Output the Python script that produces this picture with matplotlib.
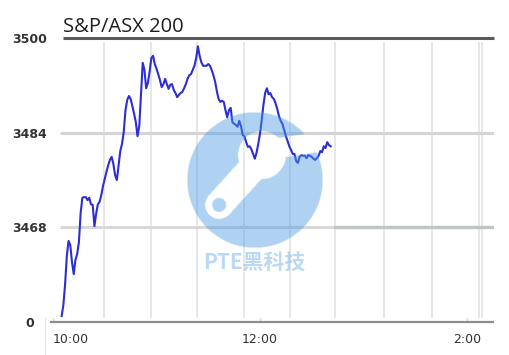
import numpy as np
import matplotlib
matplotlib.use('Agg')
import matplotlib.pyplot as plt

W, H = 509, 355

# S&P/ASX 200, one reading per minute starting 10:05
prices = [
    3453.0, 3454.9, 3458.4, 3463.2, 3465.7, 3465.0, 3462.1, 3460.1, 3462.5, 3463.5,
    3465.5, 3470.4, 3473.0, 3473.1, 3473.1, 3472.6, 3473.0, 3471.9, 3471.8, 3468.2,
    3470.3, 3471.9, 3472.3, 3473.5, 3475.0, 3476.2, 3477.4, 3478.5, 3479.4, 3479.9,
    3478.7, 3476.8, 3476.0, 3478.4, 3480.9, 3482.1, 3484.1, 3487.8, 3489.5, 3490.2,
    3489.7, 3488.5, 3487.2, 3485.8, 3483.4, 3485.1, 3490.4, 3495.8, 3494.6, 3491.5,
    3492.4, 3494.3, 3496.6, 3497.0, 3495.6, 3494.8, 3493.9, 3492.9, 3491.7, 3492.2,
    3493.1, 3492.2, 3491.4, 3492.1, 3492.2, 3491.2, 3490.7, 3490.0, 3490.4, 3490.7,
    3490.9, 3491.5, 3492.2, 3493.1, 3493.7, 3493.9, 3494.6, 3495.3, 3496.6, 3498.6,
    3497.0, 3495.9, 3495.3, 3495.3, 3495.3, 3495.6, 3495.3, 3494.6, 3493.7, 3492.6,
    3491.0, 3489.7, 3489.2, 3489.4, 3489.2, 3487.8, 3486.6, 3487.8, 3488.2, 3485.8,
    3485.5, 3485.3, 3485.0, 3486.0, 3485.1, 3483.6, 3483.4, 3482.4, 3481.6, 3481.7,
    3481.2, 3480.4, 3479.6, 3480.6, 3482.1, 3483.8, 3486.1, 3488.7, 3490.7, 3491.5,
    3490.5, 3490.7, 3490.0, 3489.7, 3489.0, 3488.0, 3486.8, 3486.0, 3485.5, 3484.5,
    3483.4, 3482.6, 3481.7, 3481.1, 3480.4, 3480.4, 3479.2, 3478.9, 3479.9, 3480.2,
    3480.1, 3480.1, 3479.7, 3480.2, 3480.1, 3479.9, 3479.6, 3479.4, 3479.7, 3480.1,
    3480.9, 3480.7, 3481.7, 3481.4, 3482.4, 3481.9, 3481.7,
]
start_min = 5
times = np.arange(start_min, start_min + len(prices))  # minutes after 10:00

y_ticks = [3452, 3468, 3484, 3500]
y_labels = ['0', '3468', '3484', '3500']
x_ticks = [0, 120, 240]
x_labels = ['10:00', '12:00', '2:00']
grid_x = [29.5, 57, 83.5, 110.5, 137.5, 163.5, 192, 220, 247, 249]


def fx(px):
    return px / W


def fy(py):
    return 1 - py / H


fig = plt.figure(figsize=(W / 100, H / 100), dpi=100)
fig.patch.set_facecolor('white')
ax = fig.add_axes([fx(52), fy(322), (494 - 52) / W, (322 - 38) / H])
ax.set_xlim(-0.6, 255.7)
ax.set_ylim(3452, 3500)
for s in ax.spines.values():
    s.set_visible(False)

# grid
ax.vlines(grid_x, 3452.7, 3499.3, color='#e0e0e0', lw=1.1, zorder=1)
ax.hlines(3484, 4, 255.7, color='#d4d4d4', lw=2.2, zorder=1)
ax.hlines(3468, 4, 162.3, color='#d8d8d8', lw=2.2, zorder=1)
ax.hlines(3468, 162.3, 255.7, color='#bcc6c2', lw=2.4, zorder=1)

# frame lines
ax.hlines(3500, 5.8, 255.7, color='#5b5b5b', lw=2.2, clip_on=False, zorder=2)
ax.hlines(3452, -1.7, 255.7, color='#8c8c8c', lw=1.6, clip_on=False, zorder=2)
fig.add_artist(plt.Line2D([fx(45), fx(45)], [fy(318), 0], color='#e6e6e6', lw=0.8))

ax.plot(times, prices, color='#2d2dd4', lw=1.5, zorder=5)

ax.set_xticks(x_ticks, x_labels)
ax.tick_params(axis='x', direction='in', length=3, width=1, color='#d0d0d0',
               pad=8, labelsize=9, labelcolor='#333333')
ax.get_xticklabels()[0].set_horizontalalignment('left')
ax.set_yticks(y_ticks, y_labels)
ax.tick_params(axis='y', length=0, pad=16, labelsize=9, labelcolor='#333333')
for lab in ax.get_yticklabels():
    lab.set_horizontalalignment('center')
    lab.set_fontweight('bold')

fig.text(fx(63), fy(32), 'S&P/ASX 200', fontsize=14.5, family='Open Sans',
         color='#1e1e1e', ha='left', va='baseline')

# watermark overlay
wax = fig.add_axes([0, 0, 1, 1], zorder=10)
wax.axis('off')
cx, cy, r = 255, 180, 68
xs = np.linspace(cx - r, cx + r, 4 * r)
ys = np.linspace(cy - r, cy + r, 4 * r)
X, Y = np.meshgrid(xs, ys)


def seg_dist(X, Y, x0, y0, x1, y1):
    dx, dy = x1 - x0, y1 - y0
    t = np.clip(((X - x0) * dx + (Y - y0) * dy) / (dx * dx + dy * dy), 0, 1)
    return np.hypot(X - (x0 + t * dx), Y - (y0 + t * dy))


inside = (X - cx) ** 2 + (Y - cy) ** 2 <= r ** 2
handle = seg_dist(X, Y, 219, 205, 258, 162) <= 14
head = (X - 262) ** 2 + (Y - 155) ** 2 <= 24 ** 2
notch = seg_dist(X, Y, 266, 150, 330, 140) <= 10
hole = (X - 219) ** 2 + (Y - 205) ** 2 <= 7 ** 2
wrench = (handle | head | notch) & ~hole
mask = inside & ~wrench
rgba = np.zeros(X.shape + (4,))
rgba[..., 0], rgba[..., 1], rgba[..., 2] = 0.30, 0.61, 0.90
rgba[..., 3] = mask * 0.45
wax.imshow(rgba, extent=(cx - r, cx + r, cy + r, cy - r), interpolation='bilinear')
wax.set_aspect('auto')
wax.set_xlim(0, W)
wax.set_ylim(H, 0)
wax.text(254, 262, 'PTE黑科技', color='#4d9be5', alpha=0.38, fontsize=15,
         fontweight='bold', family=['Noto Sans CJK SC', 'DejaVu Sans'],
         ha='center', va='center')

fig.savefig('out.png', dpi=100)
